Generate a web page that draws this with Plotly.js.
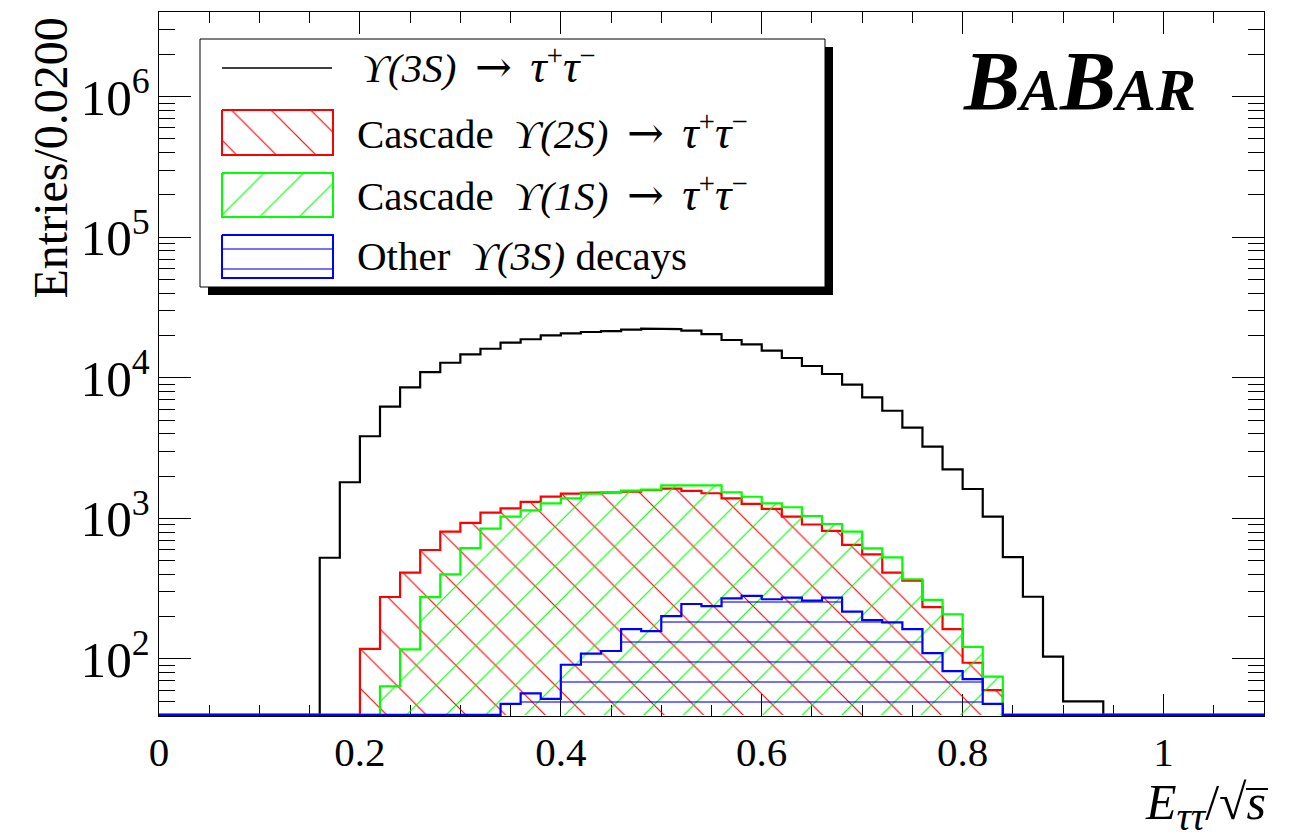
<!DOCTYPE html>
<html><head><meta charset="utf-8">
<script src="https://cdn.plot.ly/plotly-3.0.1.min.js"></script>
<style>html,body{margin:0;padding:0;background:#fff}#chart{width:1289px;height:838px}</style>
</head><body><div id="chart"></div>
<script>
// Histogram binning: 55 bins of width 0.02 from 0 to 1.1 (E_tautau / sqrt(s))
const binStart = 0.0;
const binWidth = 0.02;

// Entries per bin
const upsilon3S = [0,0,0,0,0,0,0,0,525,1807,
  3840,6230,8560,10990,12800,14690,16100,17780,18800,20070,
  20730,21180,21500,22000,22350,22200,21640,20460,18580,17310,
  15590,13830,12130,10640,8940,7270,5830,4420,3235,2230,
  1618,1028,531,277,104,50,50,0,0,0,
  0,0,0,0,0];
const cascade2S = [0,0,0,0,0,0,0,0,0,0,
  118,276,411,596,804,930,1100,1180,1310,1430,
  1500,1520,1530,1550,1590,1630,1570,1510,1390,1270,
  1170,1030,905,815,648,555,411,360,234,163,
  94,60,0,0,0,0,0,0,0,0,
  0,0,0,0,0];
const cascade1S = [0,0,0,0,0,0,0,0,0,0,
  0,64,117,275,400,615,846,1029,1140,1280,
  1390,1500,1540,1574,1600,1720,1720,1720,1534,1426,
  1280,1200,1040,912,804,612,528,369,263,208,
  122,75,0,0,0,0,0,0,0,0,
  0,0,0,0,0];
const other3S = [0,0,0,0,0,0,0,0,0,0,
  0,0,0,0,0,0,0,48,57,52,
  91,109,114,163,158,202,246,238,270,281,
  266,273,260,273,217,189,182,163,110,82,
  72,48,0,0,0,0,0,0,0,0,
  0,0,0,0,0];

const seriesNames = ['ϒ(3S) → τ⁺τ⁻','Cascade ϒ(2S) → τ⁺τ⁻','Cascade ϒ(1S) → τ⁺τ⁻','Other ϒ(3S) decays'];
const xTickVals = [0,0.2,0.4,0.6,0.8,1];

const yMin = 39.3, yMax = 4.0e6;
const FLOOR = 40; // empty bins drawn along the frame bottom, as ROOT does on a log scale

function stepPath(vals){
  const xs=[binStart], ys=[FLOOR];
  for(let i=0;i<vals.length;i++){
    const v = Math.max(vals[i], FLOOR);
    const a = binStart + i*binWidth, b = a + binWidth;
    xs.push(a,b); ys.push(v,v);
  }
  xs.push(binStart + vals.length*binWidth); ys.push(FLOOR);
  return {xs, ys};
}

function histTrace(vals, color, pat, size, sol, name){
  const p = stepPath(vals);
  const t = {x:p.xs, y:p.ys, type:'scatter', mode:'lines', name:name,
    line:{color:color, width:2.2, shape:'linear'}, showlegend:false, hoverinfo:'skip'};
  if(pat){
    t.fill='toself'; t.fillcolor='rgba(0,0,0,0)';
    t.fillpattern={shape:pat, fgcolor:color, bgcolor:'rgba(0,0,0,0)', size:size, solidity:sol, fillmode:'replace'};
  }
  return t;
}

const traces = [
  histTrace(upsilon3S, '#000000', null, 0, 0, seriesNames[0]),
  histTrace(cascade2S, '#ff0000', '\\', 28, 0.04, seriesNames[1]),
  histTrace(cascade1S, '#00ff00', '/', 28, 0.04, seriesNames[2]),
  histTrace(other3S, '#0000ff', '-', 20, 0.055, seriesNames[3])
];

// Legend swatches drawn on a helper axis (pixel-like units inside the legend box)
function rectTrace(x0,x1,y0,y1,color,pat,size,sol){
  return {x:[x0,x1,x1,x0,x0], y:[y0,y0,y1,y1,y0], xaxis:'x2', yaxis:'y2', type:'scatter', mode:'lines',
    line:{color:color,width:2}, fill:'toself', fillcolor:'rgba(0,0,0,0)',
    fillpattern:{shape:pat, fgcolor:color, bgcolor:'rgba(0,0,0,0)', size:size, solidity:sol, fillmode:'replace'},
    showlegend:false, hoverinfo:'skip'};
}
traces.push({x:[22,132], y:[29,29], xaxis:'x2', yaxis:'y2', type:'scatter', mode:'lines',
  line:{color:'#000',width:1.5}, showlegend:false, hoverinfo:'skip'});
traces.push(rectTrace(22,133,71,116,'#ff0000','\\',28,0.04));
traces.push(rectTrace(22,133,134,178,'#00ff00','/',28,0.04));
traces.push(rectTrace(22,133,196,239,'#0000ff','-',20,0.055));

// plot area in px: x 159..1264, y 12..716
const PL=159, PR=1264, PT=12, PB=716;
const px = v => (v-PL)/(PR-PL);
const py = v => (PB-v)/(PB-PT);

const serif = 'Liberation Serif, Times New Roman, serif';
const legFont = {family:serif, size:41, color:'#000'};
const arrow = '<span style="font-family:DejaVu Serif;font-size:44px">→</span>';
const tautau = '<span style="font-size:46px"><i>τ</i></span><sup>+</sup><span style="font-size:46px"><i>τ</i></span><sup>−</sup>';
const gap = ' \u2009';

const layout = {
  width:1289, height:838,
  margin:{l:PL, r:1289-PR, t:PT, b:838-PB, pad:0},
  paper_bgcolor:'#ffffff', plot_bgcolor:'rgba(0,0,0,0)',
  showlegend:false,
  font:{family:serif, color:'#000'},
  xaxis:{range:[0,1.1], tickvals:xTickVals, ticks:'inside', ticklen:22, tickwidth:1, tickcolor:'#000',
    showline:true, linecolor:'#000', linewidth:1, mirror:'ticks', showgrid:false, zeroline:false,
    layer:'below traces',
    tickfont:{family:serif, size:41, color:'#000'},
    minor:{dtick:0.05, tick0:0, ticks:'inside', ticklen:11, tickwidth:1, tickcolor:'#000', showgrid:false}},
  yaxis:{type:'log', range:[Math.log10(yMin), Math.log10(yMax)], dtick:1, ticks:'inside', ticklen:32, tickwidth:1, tickcolor:'#000',
    showline:true, linecolor:'#000', linewidth:1, mirror:'ticks', showgrid:false, zeroline:false,
    layer:'below traces',
    exponentformat:'power', tickfont:{family:serif, size:41, color:'#000'},
    minor:{dtick:'D1', ticks:'inside', ticklen:16, tickwidth:1, tickcolor:'#000', showgrid:false}},
  xaxis2:{domain:[px(200), px(825)], range:[0,625], anchor:'y2', visible:false, fixedrange:true},
  yaxis2:{domain:[py(287), py(39)], range:[248,0], anchor:'x2', visible:false, fixedrange:true},
  shapes:[
    {type:'rect', xref:'paper', yref:'paper', x0:px(208), x1:px(833), y0:py(295), y1:py(47), fillcolor:'#000', line:{width:0}, layer:'below'},
    {type:'rect', xref:'paper', yref:'paper', x0:px(200), x1:px(825), y0:py(287), y1:py(39), fillcolor:'#fff', line:{color:'#000', width:1}, layer:'below'},
    // vinculum of the square root in the x-axis title
    {type:'line', xref:'paper', yref:'paper', x0:px(1246), x1:px(1268), y0:py(789), y1:py(789), line:{color:'#000', width:2}}
  ],
  annotations:[
    {xref:'paper', yref:'paper', x:px(360), y:py(66), xanchor:'left', yanchor:'middle', showarrow:false, font:legFont,
      text:'<i>ϒ(3S)</i>'+gap+arrow+gap+tautau},
    {xref:'paper', yref:'paper', x:px(355), y:py(131), xanchor:'left', yanchor:'middle', showarrow:false, font:legFont,
      text:'Cascade  <i>ϒ(2S)</i>'+gap+arrow+gap+tautau},
    {xref:'paper', yref:'paper', x:px(355), y:py(193), xanchor:'left', yanchor:'middle', showarrow:false, font:legFont,
      text:'Cascade  <i>ϒ(1S)</i>'+gap+arrow+gap+tautau},
    {xref:'paper', yref:'paper', x:px(355), y:py(256), xanchor:'left', yanchor:'middle', showarrow:false, font:legFont,
      text:'Other  <i>ϒ(3S)</i> decays'},
    {xref:'paper', yref:'paper', x:px(1198), y:py(81), xanchor:'right', yanchor:'middle', showarrow:false,
      font:{family:serif, size:84, color:'#000'},
      text:'<b><i>B<span style="font-size:60px">A</span>B<span style="font-size:60px">AR</span></i></b>'},
    {xref:'paper', yref:'paper', x:px(1268), y:py(806), xanchor:'right', yanchor:'middle', showarrow:false,
      font:{family:serif, size:50, color:'#000'},
      text:'<i>E</i><sub><span style="font-size:40px"><i>ττ</i></span></sub>/√<i>s</i>'},
    {xref:'paper', yref:'paper', x:px(50), y:py(16), xanchor:'center', yanchor:'top', textangle:-90, showarrow:false,
      font:{family:serif, size:48, color:'#000'}, text:'Entries/0.0200'}
  ]
};

Plotly.newPlot('chart', traces, layout, {staticPlot:true, displayModeBar:false});
</script>
</body></html>
